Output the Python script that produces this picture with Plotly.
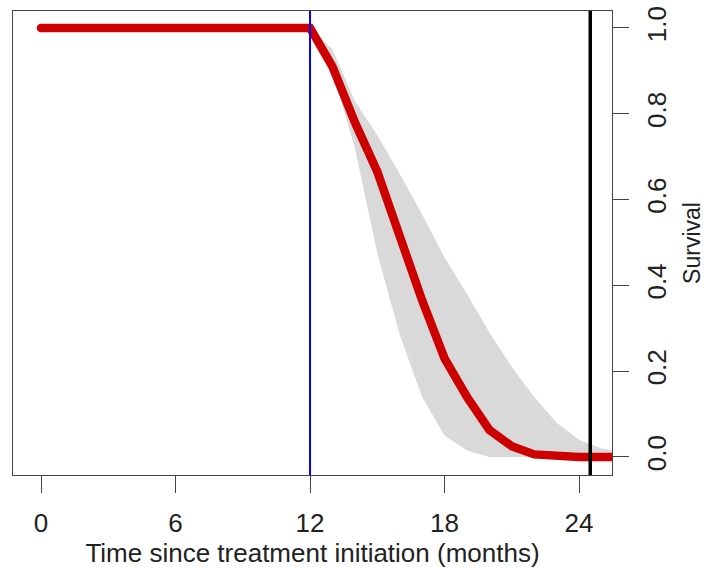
import plotly.graph_objects as go

# Survival curve evaluated at monthly time points
months = [0, 12, 13, 14, 15, 16, 17, 18, 19, 20, 21, 22, 23, 24, 25, 26]
survival = [1.0, 1.0, 0.91, 0.78, 0.665, 0.51, 0.365, 0.23, 0.14, 0.063, 0.025, 0.006, 0.001, 0.0, 0.0, 0.0]

# Pointwise uncertainty band around the curve (from month 12 on)
band_months = [12, 13, 14, 15, 16, 17, 18, 19, 20, 21, 22, 23, 24, 25, 26]
band_upper = [1.0, 0.95, 0.83, 0.75, 0.66, 0.565, 0.465, 0.38, 0.29, 0.21, 0.14, 0.08, 0.04, 0.02, 0.01]
band_lower = [1.0, 0.90, 0.72, 0.475, 0.285, 0.14, 0.05, 0.015, 0.0, 0.0, 0.0, 0.0, 0.0, 0.0, 0.0]

# Reference times: treatment switch and end of follow-up
switch_month = 12
followup_end = 24.5

x_ticks = [0, 6, 12, 18, 24]
y_ticks = [0.0, 0.2, 0.4, 0.6, 0.8, 1.0]
y_ticklabels = ["0.0", "0.2", "0.4", "0.6", "0.8", "1.0"]

FONT = "Liberation Sans, Arial, sans-serif"
RED = "#CD0000"
LINE_W = 8.5

fig = go.Figure()

fig.add_trace(go.Scatter(
    x=band_months + band_months[::-1],
    y=band_upper + band_lower[::-1],
    fill="toself", fillcolor="#D9D9D9",
    line=dict(width=0), mode="lines", hoverinfo="skip", showlegend=False,
))

# round cap at the start of the curve
marker_sizes = [LINE_W] + [0] * (len(months) - 1)
fig.add_trace(go.Scatter(
    x=months, y=survival, mode="lines+markers",
    line=dict(color=RED, width=LINE_W),
    marker=dict(color=RED, size=marker_sizes, opacity=1, line=dict(width=0)),
    showlegend=False,
))

fig.add_vline(x=switch_month, line=dict(color="#0000FF", width=2))
fig.add_vline(x=followup_end, line=dict(color="#000000", width=3.5))

fig.update_layout(
    width=706, height=568,
    margin=dict(l=13, r=94, t=11, b=93),
    plot_bgcolor="white", paper_bgcolor="white",
    font=dict(family=FONT, size=26, color="#222222"),
    showlegend=False,
)

fig.update_xaxes(
    range=[-1.25, 25.47], tickvals=x_ticks, automargin=False,
    ticks="outside", ticklen=17, tickwidth=1, tickcolor="#444444",
    ticklabelstandoff=8,
    showline=True, linecolor="#444444", linewidth=1, mirror=True,
    showgrid=False, zeroline=False,
    title=dict(text="Time since treatment initiation (months)", standoff=0,
               font=dict(size=26)),
)

fig.update_yaxes(
    range=[-0.042, 1.0396], side="right", automargin=False,
    tickvals=y_ticks, ticktext=y_ticklabels, tickangle=-90,
    ticks="outside", ticklen=16, tickwidth=1, tickcolor="#444444",
    ticklabelstandoff=6,
    showline=True, linecolor="#444444", linewidth=1, mirror=True,
    showgrid=False, zeroline=False,
    title=dict(text="Survival", standoff=12, font=dict(size=23)),
)

fig.write_html("out.html")
